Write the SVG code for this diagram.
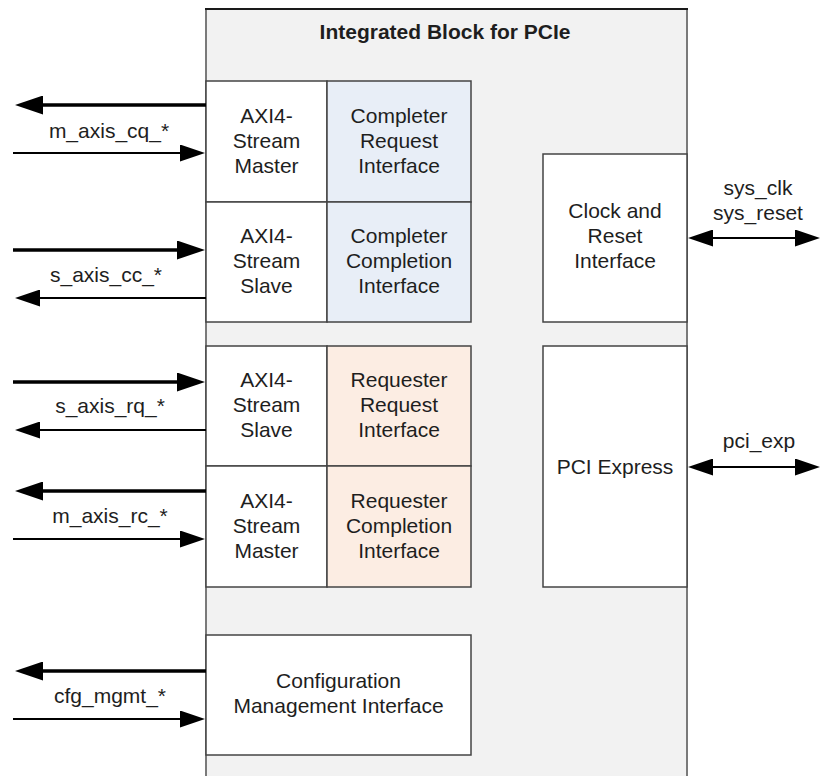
<svg xmlns="http://www.w3.org/2000/svg" width="820" height="776" viewBox="0 0 820 776">
  <style>
    text { font-family: "Liberation Sans", Arial, sans-serif; font-size: 21px; fill: #1e1e1e; text-anchor: middle; }
    .title { font-weight: bold; }
    .box { stroke: #444; stroke-width: 1.5; }
    .white { fill: #ffffff; }
    .blue { fill: #e8eef7; }
    .peach { fill: #fcede3; }
    .thick { stroke: #000; stroke-width: 3.5; fill: none; }
    .thin { stroke: #000; stroke-width: 2; fill: none; }
  </style>
  <defs>
    <marker id="headThick" markerUnits="userSpaceOnUse" markerWidth="28" markerHeight="19" refX="2" refY="9.5" orient="auto">
      <path d="M0,0 L28,9.5 L0,19 Z" fill="#000"/>
    </marker>
    <marker id="headThin" markerUnits="userSpaceOnUse" markerWidth="25" markerHeight="17" refX="2" refY="8.5" orient="auto-start-reverse">
      <path d="M0,0 L25,8.5 L0,17 Z" fill="#000"/>
    </marker>
  </defs>

  <rect width="820" height="776" fill="#ffffff"/>

  <!-- Integrated block container -->
  <g id="integrated-block">
    <rect x="206" y="9" width="481" height="800" fill="#f2f2f2" stroke="#7a7a7a" stroke-width="2"/>
    <line x1="205" y1="9" x2="688" y2="9" stroke="#1a1a1a" stroke-width="2"/>
    <text class="title" x="445" y="39">Integrated Block for PCIe</text>
  </g>

  <!-- Completer side -->
  <g id="axis-cq-master">
    <rect class="box white" x="206" y="81" width="121" height="121"/>
    <text x="266.5" y="123">AXI4-</text>
    <text x="266.5" y="148">Stream</text>
    <text x="266.5" y="173">Master</text>
  </g>
  <g id="completer-request">
    <rect class="box blue" x="327" y="81" width="144" height="121"/>
    <text x="399" y="123">Completer</text>
    <text x="399" y="148">Request</text>
    <text x="399" y="173">Interface</text>
  </g>
  <g id="axis-cc-slave">
    <rect class="box white" x="206" y="202" width="121" height="120"/>
    <text x="266.5" y="243">AXI4-</text>
    <text x="266.5" y="268">Stream</text>
    <text x="266.5" y="293">Slave</text>
  </g>
  <g id="completer-completion">
    <rect class="box blue" x="327" y="202" width="144" height="120"/>
    <text x="399" y="243">Completer</text>
    <text x="399" y="268">Completion</text>
    <text x="399" y="293">Interface</text>
  </g>

  <!-- Requester side -->
  <g id="axis-rq-slave">
    <rect class="box white" x="206" y="346" width="121" height="120"/>
    <text x="266.5" y="387">AXI4-</text>
    <text x="266.5" y="412">Stream</text>
    <text x="266.5" y="437">Slave</text>
  </g>
  <g id="requester-request">
    <rect class="box peach" x="327" y="346" width="144" height="120"/>
    <text x="399" y="387">Requester</text>
    <text x="399" y="412">Request</text>
    <text x="399" y="437">Interface</text>
  </g>
  <g id="axis-rc-master">
    <rect class="box white" x="206" y="466" width="121" height="121"/>
    <text x="266.5" y="508">AXI4-</text>
    <text x="266.5" y="533">Stream</text>
    <text x="266.5" y="558">Master</text>
  </g>
  <g id="requester-completion">
    <rect class="box peach" x="327" y="466" width="144" height="121"/>
    <text x="399" y="508">Requester</text>
    <text x="399" y="533">Completion</text>
    <text x="399" y="558">Interface</text>
  </g>

  <!-- Configuration -->
  <g id="cfg-mgmt">
    <rect class="box white" x="206" y="635" width="265" height="120"/>
    <text x="338.5" y="688">Configuration</text>
    <text x="338.5" y="713">Management Interface</text>
  </g>

  <!-- Clock / reset and PCI Express -->
  <g id="clock-reset">
    <rect class="box white" x="543" y="154" width="144" height="168"/>
    <text x="615" y="218">Clock and</text>
    <text x="615" y="243">Reset</text>
    <text x="615" y="268">Interface</text>
  </g>
  <g id="pci-express">
    <rect class="box white" x="543" y="346" width="144" height="241"/>
    <text x="615" y="474">PCI Express</text>
  </g>

  <!-- Connectors -->
  <g id="connectors">
    <line class="thick" x1="206" y1="105" x2="41" y2="105" marker-end="url(#headThick)"/>
    <line class="thin" x1="13" y1="153" x2="182" y2="153" marker-end="url(#headThin)"/>

    <line class="thick" x1="13" y1="250" x2="179" y2="250" marker-end="url(#headThick)"/>
    <line class="thin" x1="206" y1="298" x2="38" y2="298" marker-end="url(#headThin)"/>

    <line class="thick" x1="13" y1="382" x2="179" y2="382" marker-end="url(#headThick)"/>
    <line class="thin" x1="206" y1="430" x2="38" y2="430" marker-end="url(#headThin)"/>

    <line class="thick" x1="206" y1="491" x2="41" y2="491" marker-end="url(#headThick)"/>
    <line class="thin" x1="13" y1="539" x2="182" y2="539" marker-end="url(#headThin)"/>

    <line class="thick" x1="206" y1="671" x2="41" y2="671" marker-end="url(#headThick)"/>
    <line class="thin" x1="13" y1="719" x2="182" y2="719" marker-end="url(#headThin)"/>

    <line class="thin" x1="711" y1="238" x2="797" y2="238" marker-start="url(#headThin)" marker-end="url(#headThin)"/>
    <line class="thin" x1="711" y1="467" x2="797" y2="467" marker-start="url(#headThin)" marker-end="url(#headThin)"/>

    <text x="109" y="138">m_axis_cq_*</text>
    <text x="106" y="282">s_axis_cc_*</text>
    <text x="110" y="413">s_axis_rq_*</text>
    <text x="110" y="523">m_axis_rc_*</text>
    <text x="110" y="703">cfg_mgmt_*</text>
    <text x="758" y="195">sys_clk</text>
    <text x="758" y="220">sys_reset</text>
    <text x="759" y="448">pci_exp</text>
  </g>
</svg>
